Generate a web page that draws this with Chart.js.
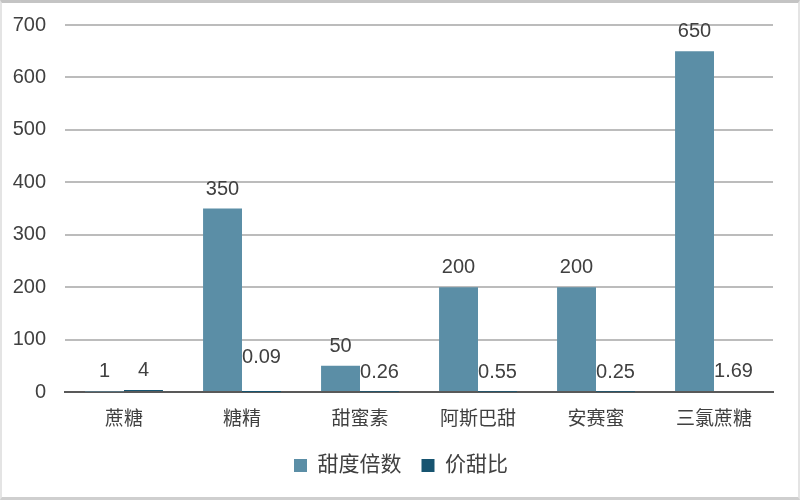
<!DOCTYPE html>
<html>
<head>
<meta charset="utf-8">
<script src="https://cdn.jsdelivr.net/npm/chart.js@4"></script>
<style>
  html, body { margin: 0; padding: 0; background: #fff; }
  #wrap { position: relative; width: 800px; height: 500px; }
  #frame {
    position: absolute; left: 0; top: 0; width: 796px; height: 494px;
    border: 2px solid #e4e4e4; border-top: 3px solid #c4c4c4; border-bottom: 3px solid #cfcfcf;
    pointer-events: none;
  }
</style>
</head>
<body>
<div id="wrap">
  <canvas id="chart" width="800" height="500"></canvas>
  <div id="frame"></div>
</div>
<script>
// ---- data ----
const categories = ['蔗糖', '糖精', '甜蜜素', '阿斯巴甜', '安赛蜜', '三氯蔗糖'];
const sweetness = [1, 350, 50, 200, 200, 650];      // 甜度倍数
const priceRatio = [4, 0.09, 0.26, 0.55, 0.25, 1.69]; // 价甜比
const yTicks = [0, 100, 200, 300, 400, 500, 600, 700];

const numFont = '"Liberation Sans", Arial, sans-serif';
const cjkFont = '"Liberation Sans", "Noto Sans CJK SC", sans-serif';

// value labels above each bar
const valueLabels = {
  id: 'valueLabels',
  afterDatasetsDraw(chart) {
    const ctx = chart.ctx;
    ctx.save();
    ctx.font = '20px ' + numFont;
    ctx.fillStyle = '#404040';
    ctx.textAlign = 'center';
    ctx.textBaseline = 'alphabetic';
    chart.data.datasets.forEach((ds, di) => {
      chart.getDatasetMeta(di).data.forEach((bar, i) => {
        // the 糖精 ratio label sits a bit higher in the original
        const lift = (di === 1 && i === 1) ? 29 : 14;
        ctx.fillText(String(ds.data[i]), bar.x, bar.y - lift);
      });
    });
    ctx.restore();
  }
};

// legend is centred on the page, not on the left-shifted layout box
const legendShift = {
  id: 'legendShift',
  afterLayout(chart) {
    const lg = chart.legend;
    const dx = (chart.width - (lg.left + lg.right)) / 2 + 1;
    lg.left += dx;
    lg.right += dx;
  }
};

new Chart(document.getElementById('chart'), {
  type: 'bar',
  data: {
    labels: categories,
    datasets: [
      { label: '甜度倍数', data: sweetness, backgroundColor: '#5b8ea6' },
      { label: '价甜比', data: priceRatio, backgroundColor: '#175470' }
    ]
  },
  options: {
    responsive: false,
    animation: false,
    layout: { padding: { left: 0, right: 27, top: 25, bottom: 14 } },
    datasets: { bar: { categoryPercentage: 0.66, barPercentage: 1 } },
    plugins: {
      tooltip: { enabled: false },
      legend: {
        position: 'bottom',
        labels: {
          boxWidth: 13,
          boxHeight: 13,
          padding: 20,
          color: '#404040',
          font: { size: 21, family: cjkFont }
        }
      }
    },
    scales: {
      x: {
        grid: { display: false },
        border: { display: true, color: '#595959', width: 2 },
        ticks: { padding: 8, color: '#404040', font: { size: 19, family: cjkFont } },
        afterFit(scale) { scale.height = 43; }
      },
      y: {
        min: 0,
        max: 700,
        afterBuildTicks(scale) { scale.ticks = yTicks.map(v => ({ value: v })); },
        border: { display: false },
        grid: {
          drawTicks: false,
          lineWidth: 2,
          color: ctx => ctx.tick && ctx.tick.value === 0 ? '#595959' : '#bcbcbc'
        },
        ticks: { padding: 19, color: '#404040', font: { size: 20, family: numFont } },
        afterFit(scale) {
          scale.width = 65;
          scale.paddingTop = 12;
          scale.paddingBottom = 0;
        }
      }
    }
  },
  plugins: [valueLabels, legendShift]
});
</script>
</body>
</html>
